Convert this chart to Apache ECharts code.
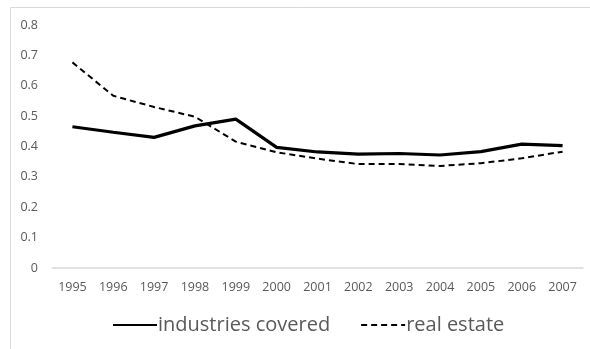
<!DOCTYPE html>
<html>
<head>
<meta charset="utf-8">
<script src="https://cdn.jsdelivr.net/npm/echarts@6/dist/echarts.min.js"></script>
<style>
  html, body { margin: 0; padding: 0; background: #fff; }
  #chart { width: 590px; height: 349px; }
</style>
</head>
<body>
<div id="chart"></div>
<script>
// years on the x axis
var years = ['1995', '1996', '1997', '1998', '1999', '2000', '2001',
             '2002', '2003', '2004', '2005', '2006', '2007'];
var industriesCovered = [0.465, 0.447, 0.430, 0.468, 0.490, 0.397, 0.382,
                         0.375, 0.377, 0.372, 0.383, 0.408, 0.403];
var realEstate = [0.677, 0.567, 0.530, 0.498, 0.416, 0.381, 0.360,
                  0.342, 0.342, 0.336, 0.345, 0.361, 0.383];
var yTicks = [0, 0.1, 0.2, 0.3, 0.4, 0.5, 0.6, 0.7, 0.8];

var myChart = echarts.init(document.getElementById('chart'));
var labelFont = 'Open Sans, Liberation Sans, sans-serif';

var option = {
    animation: false,
    backgroundColor: '#fff',
    graphic: [{
        type: 'rect',
        shape: { x: 10.5, y: 7.5, width: 700, height: 500 },
        style: { fill: 'none', stroke: '#d9d9d9', lineWidth: 1 },
        silent: true
    }],
    grid: {
        left: 52,
        right: 7,
        top: 25,
        bottom: 81
    },
    legend: {
        bottom: 14,
        left: 112,
        padding: 0,
        itemWidth: 44,
        itemHeight: 12,
        itemGap: 30,
        itemStyle: { opacity: 0 },
        textStyle: {
            color: '#595959',
            fontSize: 20,
            fontFamily: labelFont,
            padding: [0, 0, 0, -4]
        },
        data: ['industries covered', 'real estate']
    },
    xAxis: {
        type: 'category',
        data: years,
        boundaryGap: true,
        axisLine: { lineStyle: { color: '#d9d9d9', width: 1.5 } },
        axisTick: { show: false },
        axisLabel: {
            color: '#595959',
            fontSize: 12.5,
            fontFamily: labelFont,
            margin: 13
        }
    },
    yAxis: {
        type: 'value',
        min: yTicks[0],
        max: yTicks[yTicks.length - 1],
        interval: 0.1,
        axisLine: { show: false },
        axisTick: { show: false },
        splitLine: { show: false },
        axisLabel: {
            color: '#595959',
            fontSize: 12.5,
            fontFamily: labelFont,
            margin: 14,
            formatter: function (v) {
                return String(Math.round(v * 10) / 10);
            }
        }
    },
    series: [{
        name: 'industries covered',
        type: 'line',
        data: industriesCovered,
        symbol: 'none',
        lineStyle: { color: '#000', width: 3.2 },
        itemStyle: { color: '#000' }
    }, {
        name: 'real estate',
        type: 'line',
        data: realEstate,
        symbol: 'none',
        lineStyle: { color: '#000', width: 2, type: [6, 4] },
        itemStyle: { color: '#000' }
    }]
};
option && myChart.setOption(option);
</script>
</body>
</html>
